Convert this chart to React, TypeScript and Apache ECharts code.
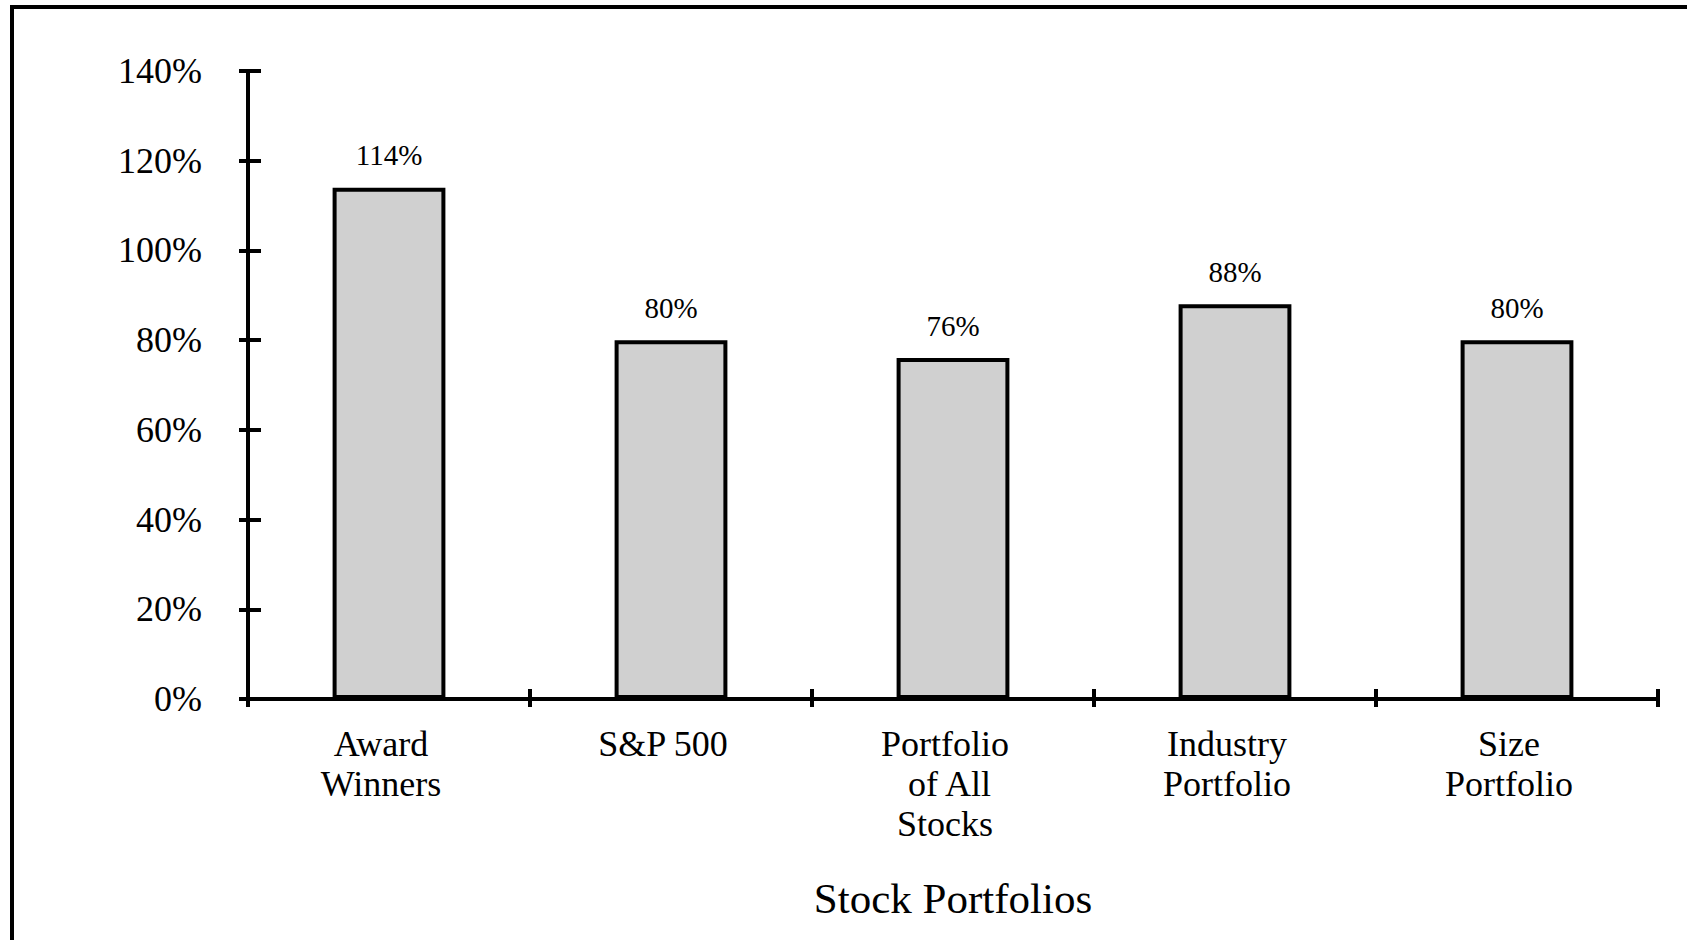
import React, { useEffect, useRef } from "react";
import * as echarts from "echarts";

const categories = ["Award\nWinners", "S&P 500", "Portfolio\n of All\nStocks", "Industry\nPortfolio", "Size\nPortfolio"];
const values = [114, 80, 76, 88, 80];
const xAxisTitle = "Stock Portfolios";
const yMin = 0;
const yMax = 140;
const yStep = 20;

const FONT = "'Liberation Serif', 'Times New Roman', serif";

export default function App() {
  const ref = useRef<HTMLDivElement>(null);
  useEffect(() => {
    document.body.style.margin = "0";
    const chart = echarts.init(ref.current!, null, { renderer: "svg" });
    const grid = { left: 248, right: 29, top: 71, bottom: 241 };
    chart.setOption({
      animation: false,
      backgroundColor: "#ffffff",
      textStyle: { fontFamily: FONT, color: "#000" },
      grid,
      xAxis: [
        {
          type: "category",
          data: categories,
          boundaryGap: true,
          name: xAxisTitle,
          nameLocation: "middle",
          nameGap: 178,
          nameTextStyle: { fontFamily: FONT, fontSize: 43, color: "#000" },
          axisLine: { show: true, lineStyle: { color: "#000", width: 4 } },
          axisTick: { show: true, length: 8, lineStyle: { color: "#000", width: 4 } },
          axisLabel: {
            fontFamily: FONT,
            fontSize: 36,
            lineHeight: 40,
            color: "#000",
            margin: 25,
            interval: 0,
            padding: [0, 16, 0, 0],
          },
          splitLine: { show: false },
        },
        {
          type: "category",
          data: categories,
          position: "bottom",
          boundaryGap: true,
          axisLine: { show: false },
          axisTick: { show: true, inside: true, length: 10, lineStyle: { color: "#000", width: 4 } },
          axisLabel: { show: false },
          splitLine: { show: false },
        },
      ],
      yAxis: [
        {
          type: "value",
          min: yMin,
          max: yMax,
          interval: yStep,
          axisLine: { show: true, lineStyle: { color: "#000", width: 4 } },
          axisTick: { show: true, length: 9, lineStyle: { color: "#000", width: 4 } },
          axisLabel: {
            fontFamily: FONT,
            fontSize: 36,
            color: "#000",
            margin: 46,
            formatter: (v: number) => `${v}%`,
          },
          splitLine: { show: false },
        },
        {
          type: "value",
          min: yMin,
          max: yMax,
          interval: yStep,
          position: "left",
          axisLine: { show: false },
          axisTick: { show: true, inside: true, length: 13, lineStyle: { color: "#000", width: 4 } },
          axisLabel: { show: false },
          splitLine: { show: false },
        },
      ],
      series: [
        {
          type: "bar",
          data: values,
          barCategoryGap: "60%",
          itemStyle: { color: "#d0d0d0", borderColor: "#000", borderWidth: 4 },
          label: {
            show: true,
            position: "top",
            distance: 18,
            fontFamily: FONT,
            fontSize: 29,
            color: "#000",
            formatter: (p: any) => `${p.value}%`,
          },
        },
      ],
      graphic: [
        { type: "line", shape: { x1: 10, y1: 7, x2: 1687, y2: 7 }, style: { stroke: "#000", lineWidth: 4 } },
        { type: "line", shape: { x1: 12, y1: 5, x2: 12, y2: 940 }, style: { stroke: "#000", lineWidth: 4 } },
      ],
    });
    return () => chart.dispose();
  }, []);
  return <div ref={ref} style={{ width: 1687, height: 940 }} />;
}
